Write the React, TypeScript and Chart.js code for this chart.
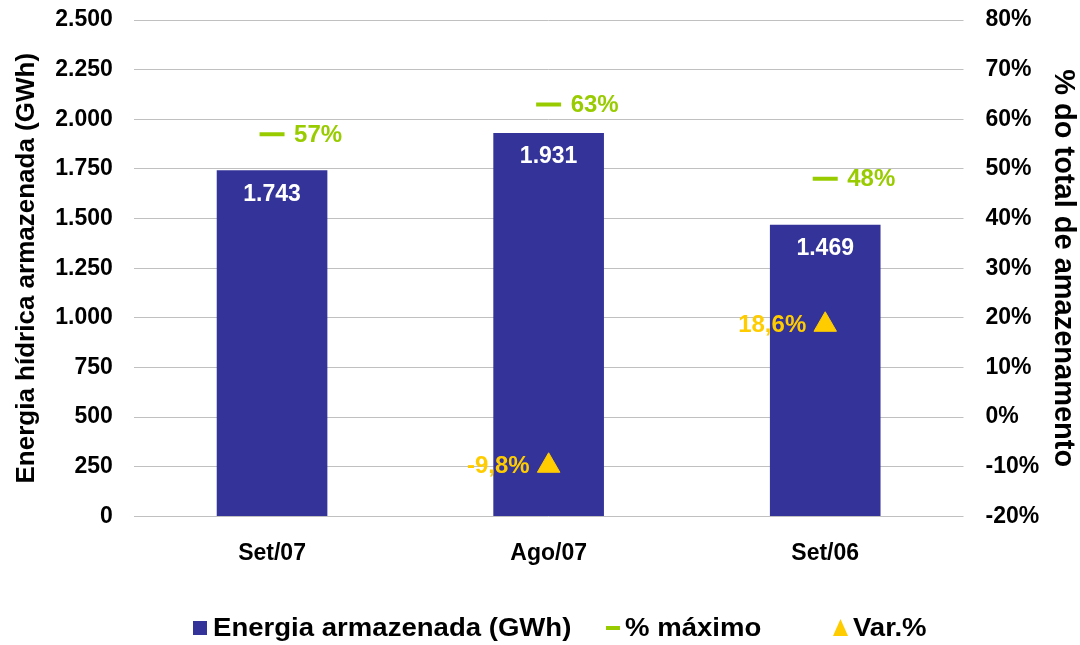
import React, { useEffect, useRef } from "react";
import { Chart, registerables } from "chart.js";

Chart.register(...registerables);

const categories = ["Set/07", "Ago/07", "Set/06"];
const energia = [1743, 1931, 1469];
const pctMaximo = [57, 63, 48];
const varPct: (number | null)[] = [null, -9.8, 18.6];
const varLabels = ["", "-9,8%", "18,6%"];
const legendLabels = ["Energia armazenada (GWh)", "% máximo", "Var.%"];

const BLUE = "#333399";
const GREEN = "#99CC00";
const YELLOW = "#FFCC00";
const FONT = "'Liberation Sans', Arial, sans-serif";

const fmt = (v: number) => v.toString().replace(/\B(?=(\d{3})+(?!\d))/g, ".");

const labelPlugin = {
  id: "valueLabels",
  afterDatasetsDraw(chart: any) {
    const ctx = chart.ctx;
    ctx.save();
    ctx.textBaseline = "middle";
    ctx.font = `bold 23px ${FONT}`;
    const m0 = chart.getDatasetMeta(0);
    m0.data.forEach((el: any, i: number) => {
      ctx.fillStyle = "#ffffff";
      ctx.textAlign = "center";
      ctx.fillText(fmt(energia[i]), el.x, el.y + 24);
    });
    ctx.font = `bold 24px ${FONT}`;
    const m1 = chart.getDatasetMeta(1);
    m1.data.forEach((el: any, i: number) => {
      ctx.fillStyle = GREEN;
      ctx.textAlign = "left";
      ctx.fillText(`${pctMaximo[i]}%`, el.x + 22, el.y + 1);
    });
    const m2 = chart.getDatasetMeta(2);
    m2.data.forEach((el: any, i: number) => {
      if (varPct[i] == null) return;
      ctx.fillStyle = YELLOW;
      ctx.textAlign = "right";
      ctx.fillText(varLabels[i], el.x - 19, el.y + 1);
    });
    ctx.restore();
  },
};

const drawStretched = (ctx: any, text: string, x: number, y: number, sx: number) => {
  ctx.save();
  ctx.translate(x, y);
  ctx.scale(sx, 1);
  ctx.fillText(text, 0, 0);
  ctx.restore();
};

const legendPlugin = {
  id: "customLegend",
  afterDraw(chart: any) {
    const ctx = chart.ctx;
    ctx.save();
    ctx.font = `bold 26px ${FONT}`;
    ctx.textBaseline = "middle";
    ctx.textAlign = "left";
    const y = 628;
    const c = chart.width / 2;
    const starts = [c - 347, c + 66, c + 293];
    const sx = 1.06;
    ctx.fillStyle = BLUE;
    ctx.fillRect(starts[0], y - 7, 14, 14);
    ctx.fillStyle = "#000";
    drawStretched(ctx, legendLabels[0], starts[0] + 20, y + 1, sx);
    ctx.strokeStyle = GREEN;
    ctx.lineWidth = 4;
    ctx.beginPath();
    ctx.moveTo(starts[1], y);
    ctx.lineTo(starts[1] + 14, y);
    ctx.stroke();
    ctx.fillStyle = "#000";
    drawStretched(ctx, legendLabels[1], starts[1] + 19, y + 1, sx);
    ctx.fillStyle = YELLOW;
    ctx.beginPath();
    ctx.moveTo(starts[2] + 7.5, y - 9);
    ctx.lineTo(starts[2] + 15, y + 8);
    ctx.lineTo(starts[2], y + 8);
    ctx.closePath();
    ctx.fill();
    ctx.fillStyle = "#000";
    drawStretched(ctx, legendLabels[2], starts[2] + 20, y + 1, sx);
    ctx.restore();
  },
};

const fixPad = (scale: any) => {
  scale.paddingTop = 20;
  scale.paddingBottom = 0;
};

export default function App() {
  const ref = useRef<HTMLCanvasElement>(null);
  useEffect(() => {
    if (!ref.current) return;
    const chart = new Chart(ref.current, {
      type: "bar",
      data: {
        labels: categories,
        datasets: [
          {
            type: "bar",
            label: "Energia armazenada (GWh)",
            data: energia,
            backgroundColor: BLUE,
            yAxisID: "y",
            barPercentage: 0.4,
            categoryPercentage: 1,
            order: 3,
          },
          {
            type: "line",
            label: "% máximo",
            data: pctMaximo,
            yAxisID: "y1",
            showLine: false,
            pointStyle: "line",
            pointRadius: 12.5,
            pointBorderWidth: 4,
            borderColor: GREEN,
            backgroundColor: GREEN,
            order: 1,
          },
          {
            type: "line",
            label: "Var.%",
            data: varPct,
            yAxisID: "y1",
            showLine: false,
            pointStyle: "triangle",
            pointRadius: 13,
            pointBorderWidth: 1,
            borderColor: YELLOW,
            backgroundColor: YELLOW,
            order: 0,
          },
        ],
      },
      options: {
        animation: false,
        responsive: true,
        maintainAspectRatio: false,
        layout: { padding: { top: 0, left: 0, right: 0, bottom: 63 } },
        plugins: {
          tooltip: { enabled: false },
          legend: { display: false },
        },
        scales: {
          x: {
            grid: { display: false },
            border: { display: false },
            ticks: { color: "#000", font: { family: FONT, size: 23, weight: "bold" }, padding: 15 },
          },
          y: {
            position: "left",
            min: 0,
            max: 2500,
            afterFit: fixPad,
            ticks: {
              stepSize: 250,
              color: "#000",
              padding: 21,
              font: { family: FONT, size: 23, weight: "bold" },
              callback: (v: any) => fmt(Number(v)),
            },
            grid: { color: "#c0c0c0", drawTicks: false },
            border: { display: false },
            title: {
              display: true,
              text: "Energia hídrica armazenada (GWh)",
              color: "#000",
              font: { family: FONT, size: 26, weight: "bold" },
              padding: { top: 11, bottom: -8 },
            },
          },
          y1: {
            position: "right",
            min: -20,
            max: 80,
            afterFit: fixPad,
            ticks: {
              stepSize: 10,
              color: "#000",
              padding: 22,
              font: { family: FONT, size: 23, weight: "bold" },
              callback: (v: any) => `${v}%`,
            },
            grid: { display: false, drawTicks: false },
            border: { display: false },
            title: {
              display: true,
              text: "% do total de amazenamento",
              color: "#000",
              font: { family: FONT, size: 29, weight: "bold" },
              padding: { top: 0, bottom: -16 },
            },
          },
        },
      } as any,
      plugins: [labelPlugin, legendPlugin],
    });
    return () => chart.destroy();
  }, []);
  return (
    <div style={{ position: "fixed", left: 0, top: 0, width: 1080, height: 645, background: "#fff" }}>
      <canvas ref={ref} />
    </div>
  );
}
